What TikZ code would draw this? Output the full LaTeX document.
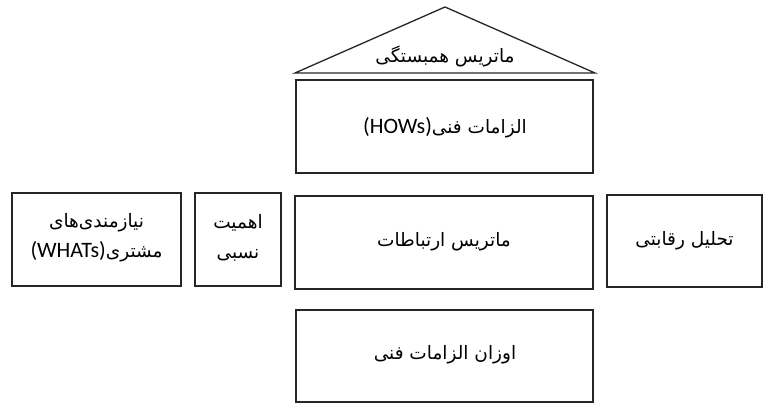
\documentclass[tikz,border=0pt]{standalone}
\usepackage{fontspec}
\TeXXeTstate=1
\newfontfamily\arabicfont[Script=Arabic]{DejaVu Sans}
\newfontfamily\latinfont{Carlito}
\newcommand{\fa}[1]{{\arabicfont\beginR #1\endR}}
\newcommand{\la}[1]{\beginL{\latinfont\fontsize{22}{24}\selectfont #1}\endL}
\begin{document}
\begin{tikzpicture}[x=1pt,y=-1pt,
  boxline/.style={draw=black!85, line width=1.3pt},
  lbl/.style={font=\fontsize{18.5}{30}\selectfont, align=center, inner sep=0pt}]
\useasboundingbox (0,0) rectangle (764,403);
% roof
\coordinate (rl) at (295,73);
\coordinate (rr) at (595,73);
\coordinate (ra) at (445,7);
\draw[boxline, line join=miter] (rl) -- (ra) -- (rr) -- cycle;
\node[lbl] (roof) at (445,56) {\fa{ماتریس همبستگی}};
% HOWs
\draw[boxline] (296,80) rectangle (593,173);
\node[lbl] (hows) at (445,128) {\fa{الزامات فنی\la{(HOWs)}}};
% middle row
\draw[boxline] (12,193) rectangle (181,286);
\node[lbl] (whats) at (96.5,238) {\fa{نیازمندی‌های}\\\fa{مشتری\la{(WHATs)}}};
\draw[boxline] (195,193) rectangle (281,286);
\node[lbl] (imp) at (238,238) {\fa{اهمیت}\\\fa{نسبی}};
\draw[boxline] (295,196) rectangle (593,289);
\node[lbl] (rel) at (444,242) {\fa{ماتریس ارتباطات}};
\draw[boxline] (607,195) rectangle (762,287);
\node[lbl] (comp) at (684.5,241) {\fa{تحلیل رقابتی}};
% bottom
\draw[boxline] (296,310) rectangle (593,402);
\node[lbl] (wts) at (445,355) {\fa{اوزان الزامات فنی}};
\end{tikzpicture}
\end{document}
